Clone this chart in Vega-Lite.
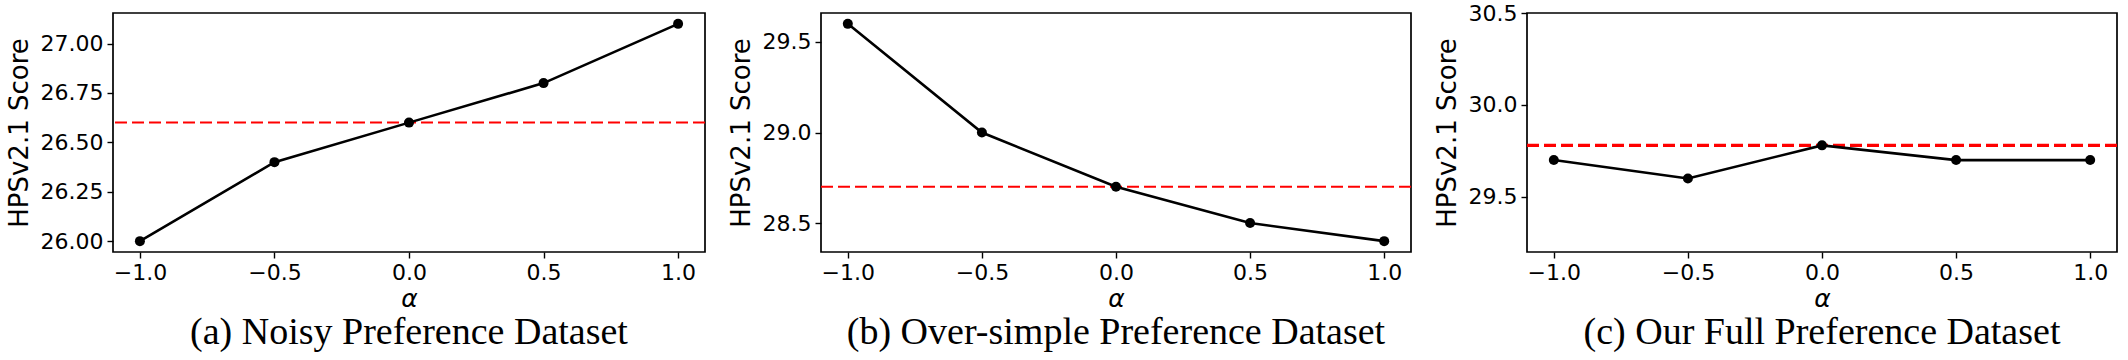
{
  "$schema": "https://vega.github.io/schema/vega-lite/v6.json",
  "background": "white",
  "padding": {"left": 5, "top": 1, "right": 4, "bottom": 0},
  "bounds": "flush",
  "spacing": 116,
  "config": {
    "view": {"stroke": "black", "strokeWidth": 1.7, "fill": "white"},
    "axis": {
      "grid": false, "domain": false,
      "tickColor": "black", "tickWidth": 1.4, "tickSize": 6,
      "labelFont": "DejaVu Sans", "labelFontSize": 22, "labelColor": "black", "labelPadding": 4,
      "titleFont": "DejaVu Sans", "titleFontSize": 26, "titleColor": "black", "titleFontWeight": "normal"
    },
    "title": {"font": "Liberation Serif", "fontSize": 38, "fontWeight": "normal", "color": "black", "orient": "bottom", "anchor": "middle", "offset": 3}
  },
  "hconcat": [
    {
      "width": 592, "height": 239,
      "title": "(a) Noisy Preference Dataset",
      "data": {"values": [
        {"alpha": -1.0, "score": 26.0, "baseline": 26.6},
        {"alpha": -0.5, "score": 26.4, "baseline": 26.6},
        {"alpha": 0.0, "score": 26.6, "baseline": 26.6},
        {"alpha": 0.5, "score": 26.8, "baseline": 26.6},
        {"alpha": 1.0, "score": 27.1, "baseline": 26.6}
      ]},
      "encoding": {
        "x": {"field": "alpha", "type": "quantitative", "scale": {"domain": [-1.1, 1.1], "nice": false, "zero": false},
              "axis": {"values": [-1, -0.5, 0, 0.5, 1], "format": ".1f", "title": "α", "titleFontStyle": "italic", "titleFontSize": 25, "titlePadding": 3}}
      },
      "layer": [
        {"mark": {"type": "rule", "color": "#ff0000", "strokeWidth": 2, "strokeDash": [12, 5]},
         "encoding": {"y": {"field": "baseline", "aggregate": "mean", "type": "quantitative"}, "x": null}},
        {"mark": {"type": "line", "color": "black", "strokeWidth": 2.6},
         "encoding": {"y": {"field": "score", "type": "quantitative", "scale": {"domain": [25.945, 27.155], "nice": false, "zero": false},
              "axis": {"values": [26.0, 26.25, 26.5, 26.75, 27.0], "format": ".2f", "title": "HPSv2.1 Score", "titlePadding": 8}}}},
        {"mark": {"type": "point", "filled": true, "color": "black", "size": 100, "opacity": 1},
         "encoding": {"y": {"field": "score", "type": "quantitative"}}}
      ]
    },
    {
      "width": 590, "height": 239,
      "title": "(b) Over-simple Preference Dataset",
      "data": {"values": [
        {"alpha": -1.0, "score": 29.6, "baseline": 28.7},
        {"alpha": -0.5, "score": 29.0, "baseline": 28.7},
        {"alpha": 0.0, "score": 28.7, "baseline": 28.7},
        {"alpha": 0.5, "score": 28.5, "baseline": 28.7},
        {"alpha": 1.0, "score": 28.4, "baseline": 28.7}
      ]},
      "encoding": {
        "x": {"field": "alpha", "type": "quantitative", "scale": {"domain": [-1.1, 1.1], "nice": false, "zero": false},
              "axis": {"values": [-1, -0.5, 0, 0.5, 1], "format": ".1f", "title": "α", "titleFontStyle": "italic", "titleFontSize": 25, "titlePadding": 3}}
      },
      "layer": [
        {"mark": {"type": "rule", "color": "#ff0000", "strokeWidth": 2, "strokeDash": [12, 5]},
         "encoding": {"y": {"field": "baseline", "aggregate": "mean", "type": "quantitative"}, "x": null}},
        {"mark": {"type": "line", "color": "black", "strokeWidth": 2.6},
         "encoding": {"y": {"field": "score", "type": "quantitative", "scale": {"domain": [28.34, 29.66], "nice": false, "zero": false},
              "axis": {"values": [28.5, 29.0, 29.5], "format": ".1f", "title": "HPSv2.1 Score", "titlePadding": 8}}}},
        {"mark": {"type": "point", "filled": true, "color": "black", "size": 100, "opacity": 1},
         "encoding": {"y": {"field": "score", "type": "quantitative"}}}
      ]
    },
    {
      "width": 590, "height": 239,
      "title": "(c) Our Full Preference Dataset",
      "data": {"values": [
        {"alpha": -1.0, "score": 29.7, "baseline": 29.78},
        {"alpha": -0.5, "score": 29.6, "baseline": 29.78},
        {"alpha": 0.0, "score": 29.78, "baseline": 29.78},
        {"alpha": 0.5, "score": 29.7, "baseline": 29.78},
        {"alpha": 1.0, "score": 29.7, "baseline": 29.78}
      ]},
      "encoding": {
        "x": {"field": "alpha", "type": "quantitative", "scale": {"domain": [-1.1, 1.1], "nice": false, "zero": false},
              "axis": {"values": [-1, -0.5, 0, 0.5, 1], "format": ".1f", "title": "α", "titleFontStyle": "italic", "titleFontSize": 25, "titlePadding": 3}}
      },
      "layer": [
        {"mark": {"type": "rule", "color": "#ff0000", "strokeWidth": 3.2, "strokeDash": [12, 5]},
         "encoding": {"y": {"field": "baseline", "aggregate": "mean", "type": "quantitative"}, "x": null}},
        {"mark": {"type": "line", "color": "black", "strokeWidth": 2.6},
         "encoding": {"y": {"field": "score", "type": "quantitative", "scale": {"domain": [29.2, 30.5], "nice": false, "zero": false},
              "axis": {"values": [29.5, 30.0, 30.5], "format": ".1f", "title": "HPSv2.1 Score", "titlePadding": 8}}}},
        {"mark": {"type": "point", "filled": true, "color": "black", "size": 100, "opacity": 1},
         "encoding": {"y": {"field": "score", "type": "quantitative"}}}
      ]
    }
  ]
}
